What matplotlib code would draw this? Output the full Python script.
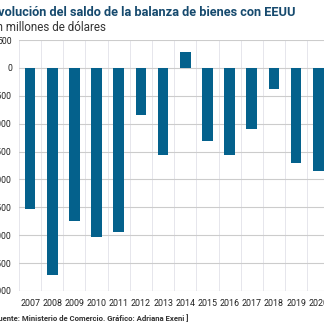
import numpy as np
import matplotlib
matplotlib.use('Agg')
import matplotlib.pyplot as plt

# datos (millones de dolares)
years = [2007, 2008, 2009, 2010, 2011, 2012, 2013, 2014, 2015, 2016, 2017, 2018, 2019, 2020]
saldo = [-2530, -3720, -2740, -3040, -2940, -845, -1565, 280, -1310, -1565, -1090, -380, -1700, -1840]
yticks = [500, 0, -500, -1000, -1500, -2000, -2500, -3000, -3500, -4000]

title = 'Evolución del saldo de la balanza de bienes con EEUU'
subtitle = 'En millones de dólares'
source = '[ Fuente: Ministerio de Comercio. Gráfico: Adriana Exeni ]'

bar_color = '#04618c'
tickfont = ['Roboto', 'DejaVu Sans']

fig = plt.figure(figsize=(3.24, 3.24), dpi=100)
ax = fig.add_axes([0.0586, 0.1019, 0.958, 0.7746])

ax.bar(years, saldo, width=0.48, color=bar_color, zorder=3)

ax.set_xlim(years[0] - 0.5, years[-1] + 0.5)
ax.set_ylim(-4000, 500)
ax.set_yticks(yticks)
ax.set_yticklabels([str(v) for v in yticks], family=tickfont, fontsize=6.2, color='#222222')
ax.set_xticks(years)
ax.set_xticklabels([str(y) for y in years], family=tickfont, fontsize=6.4, color='#222222')
ax.set_xticks(np.arange(years[0] - 0.5, years[-1] + 1, 1), minor=True)

ax.grid(axis='y', which='major', color='#cccccc', lw=0.8, zorder=0)
ax.grid(axis='x', which='minor', color='#e6e6ec', lw=0.7, zorder=0)
ax.tick_params(which='both', length=0)
ax.tick_params(axis='y', pad=5)
ax.tick_params(axis='x', pad=6)
for s in ax.spines.values():
    s.set_visible(False)

fig.text(-0.028, 0.962, title, fontsize=9.2, fontweight='bold', color='#164a6e',
         family=['Roboto', 'DejaVu Sans'], va='center', ha='left')
fig.text(-0.03, 0.915, subtitle, fontsize=8.4, color='#333333',
         family=['Roboto', 'DejaVu Sans'], va='center', ha='left')
fig.text(-0.03, 0.018, source, fontsize=5.6, fontweight='bold', color='#333333',
         family=['Roboto', 'DejaVu Sans'], va='center', ha='left')

fig.savefig('out.png', dpi=100)
